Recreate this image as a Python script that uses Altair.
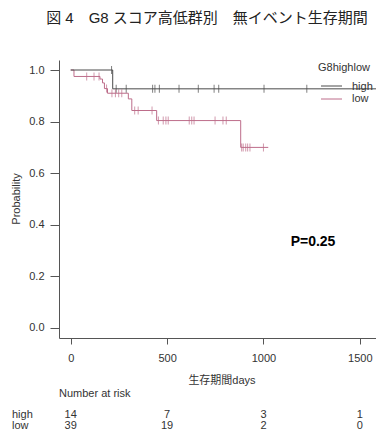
import altair as alt
import pandas as pd

# ---- Kaplan-Meier step data ----
high_t = [0, 218, 1600]
high_s = [1.0, 0.927, 0.927]
high_cens = [212, 236, 288, 425, 437, 460, 562, 662, 744, 768, 1003, 1225]

low_t = [0, 17, 152, 165, 175, 191, 299, 317, 446, 882, 1025]
low_s = [1.0, 0.975, 0.965, 0.950, 0.928, 0.910, 0.888, 0.843, 0.804, 0.700, 0.700]
low_cens = [83, 121, 147, 186, 214, 232, 249, 265, 332, 350, 422,
            455, 480, 494, 506, 615, 628, 640, 749, 790, 807,
            887, 895, 908, 918, 930, 1000]

risk_times = [0, 500, 1000, 1500]
risk_high = [14, 7, 3, 1]
risk_low = [39, 19, 2, 0]

groups = ["high", "low"]
colors = ["#4a4a4a", "#bd6d8a"]

FONT = "Liberation Sans, Noto Sans CJK JP"


def step_value(ts, ss, t):
    v = ss[0]
    for ti, si in zip(ts, ss):
        if ti <= t:
            v = si
    return v


curve = pd.DataFrame(
    [{"t": t, "s": s, "g": "high"} for t, s in zip(high_t, high_s)]
    + [{"t": t, "s": s, "g": "low"} for t, s in zip(low_t, low_s)]
)
cens = pd.DataFrame(
    [{"t": t, "s": step_value(high_t, high_s, t), "g": "high"} for t in high_cens]
    + [{"t": t, "s": step_value(low_t, low_s, t), "g": "low"} for t in low_cens]
)
risk_h = pd.DataFrame({"t": risk_times, "n": [str(n) for n in risk_high]})
risk_l = pd.DataFrame({"t": risk_times, "n": [str(n) for n in risk_low]})

xscale = alt.Scale(domain=[-60.7, 1584], nice=False, zero=False)
yscale = alt.Scale(domain=[-0.0388, 1.0388], nice=False, zero=False)
cscale = alt.Scale(domain=groups, range=colors)

xaxis = alt.Axis(values=risk_times, format="d", title=None, tickSize=6, labelPadding=8,
                 labelFlush=False, labelOverlap=False, grid=False)
yaxis = alt.Axis(values=[0, 0.2, 0.4, 0.6, 0.8, 1.0], format=".1f", title=None,
                 tickSize=9, labelPadding=6, labelFlush=False, grid=False)

base_x = alt.X("t:Q", scale=xscale, axis=xaxis)
base_y = alt.Y("s:Q", scale=yscale, axis=yaxis)
col = alt.Color("g:N", scale=cscale, legend=None)

low_line = alt.Chart(curve[curve.g == "low"]).mark_line(
    interpolate="step-after", clip=True, strokeWidth=1
).encode(x=base_x, y=base_y, color=col)

high_line = alt.Chart(curve[curve.g == "high"]).mark_line(
    interpolate="step-after", clip=True, strokeWidth=1
).encode(x=base_x, y=base_y, color=col)

ticks = alt.Chart(cens).mark_tick(orient="vertical", size=8, thickness=1).encode(
    x=base_x, y=base_y, color=col
)


def risk_layer(df, ypix):
    return alt.Chart(df).mark_text(
        font=FONT, fontSize=11, color="#333", baseline="middle", align="center"
    ).encode(x=alt.X("t:Q", scale=xscale, axis=xaxis), y=alt.value(ypix), text="n:N")


labels = [
    # label, x, y, size, angle, align, weight, color
    ("図 4　G8 スコア高低群別　無イベント生存期間", 148, -42, 15, 0, "center", "normal", "#222"),
    ("Probability", -42, 139, 11, 270, "center", "normal", "#333"),
    ("生存期間days", 163, 321, 11, 0, "center", "normal", "#333"),
    ("Number at risk", 0, 334, 11, 0, "left", "normal", "#333"),
    ("high", -47, 355, 11, 0, "left", "normal", "#333"),
    ("low", -47, 366, 11, 0, "left", "normal", "#333"),
    ("G8highlow", 259, 8, 11, 0, "left", "normal", "#333"),
    ("high", 293, 27, 11, 0, "left", "normal", "#333"),
    ("low", 293, 39, 11, 0, "left", "normal", "#333"),
    ("P=0.25", 254, 182, 14, 0, "center", "bold", "#000"),
]


def text_layer(lab, px, py, size, ang, al, wt, c):
    return alt.Chart(pd.DataFrame({"label": [lab]})).mark_text(
        font=FONT, fontSize=size, angle=ang, align=al,
        baseline="middle", fontWeight=wt, color=c
    ).encode(x=alt.value(px), y=alt.value(py), text="label:N")


text_layers = [text_layer(*r) for r in labels]

legend_df = pd.DataFrame({"g": groups, "y": [26, 39]})
legend_lines = alt.Chart(legend_df).mark_rule(strokeWidth=1).encode(
    x=alt.value(262), x2=alt.value(283), y=alt.Y("y:Q", scale=None),
    color=col
)

chart = alt.layer(
    low_line, high_line, ticks, legend_lines,
    risk_layer(risk_h, 355), risk_layer(risk_l, 366), *text_layers
).properties(
    width=317, height=278,
    padding={"left": 51, "top": 52, "right": 0, "bottom": 92},
    autosize=alt.AutoSizeParams(type="none"),
).configure_view(stroke=None).configure_axis(
    labelFont=FONT, labelFontSize=11, labelColor="#333",
    domainColor="#555", tickColor="#555", domainWidth=1, tickWidth=1,
)

chart.save("out.html", embed_options={"renderer": "svg", "actions": False})
